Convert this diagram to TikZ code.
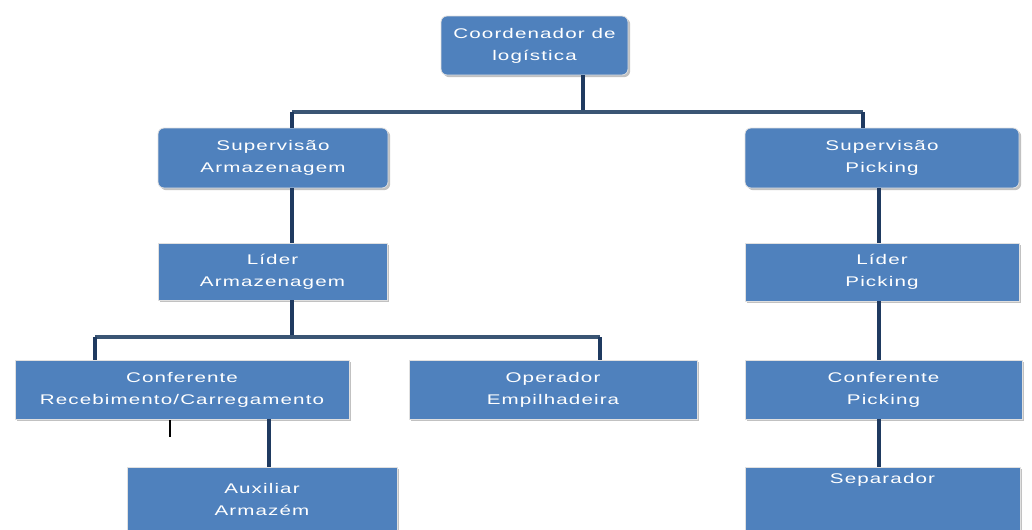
\documentclass[tikz,border=0pt]{standalone}
\usepackage{fontspec}
\setmainfont{Liberation Sans}[FakeStretch=1.47,LetterSpace=8]
\usetikzlibrary{shadows}
\definecolor{boxblue}{HTML}{4F81BD}
\definecolor{navy}{HTML}{1F3A60}
\definecolor{slate}{HTML}{3A5574}
\tikzset{
  box/.style={fill=boxblue, draw=black!12, line width=0.6pt, text=white,
    align=center, inner sep=0pt,
    font=\fontsize{10.5}{16.5}\selectfont,
    drop shadow={shadow xshift=1.6pt, shadow yshift=-1.6pt, fill=black!40, opacity=0.6}},
  rbox/.style={box, rounded corners=4.5pt},
  txt/.style={text=white, font=\fontsize{10.5}{16.5}\selectfont, inner sep=0pt},
  conn/.style={draw=navy, line width=3pt},
  hconn/.style={draw=slate, line width=2.4pt},
  tick/.style={draw=black, line width=1.5pt}
}
\begin{document}
\begin{tikzpicture}[x=0.75pt,y=-0.75pt]
\useasboundingbox (0,0) rectangle (1032,529);
\fill[white] (0,0) rectangle (1032,529);
\coordinate (t1) at (583,112);
\coordinate (tL) at (292,112);
\coordinate (tR) at (863,112);
\coordinate (vR) at (879,0);
\coordinate (m1) at (292,337);
\coordinate (mL) at (95,337);
\coordinate (mR) at (600,337);
\coordinate (vA) at (269,0);
\coordinate (k1) at (170,420);
\coordinate (k2) at (170,437);
% boxes
\node[rbox, minimum width=187*0.75pt, minimum height=59*0.75pt] (co) at (534.5,45.5) {Coordenador de\\log\'istica};
\node[rbox, minimum width=230*0.75pt, minimum height=60*0.75pt] (sa) at (273,158) {Supervis\~ao\\Armazenagem};
\node[rbox, minimum width=274*0.75pt, minimum height=60*0.75pt] (sp) at (882,158) {Supervis\~ao\\Picking};
\node[box, minimum width=229*0.75pt, minimum height=57*0.75pt] (la) at (272.5,271.5) {L\'ider\\Armazenagem};
\node[box, minimum width=274*0.75pt, minimum height=58*0.75pt] (lp) at (882,272) {L\'ider\\Picking};
\node[box, minimum width=334*0.75pt, minimum height=59*0.75pt] (cr) at (182,389.5) {Conferente\\Recebimento/Carregamento};
\node[box, minimum width=288*0.75pt, minimum height=59*0.75pt] (oe) at (553,389.5) {Operador\\Empilhadeira};
\node[box, minimum width=277*0.75pt, minimum height=59*0.75pt] (cp) at (883.5,389.5) {Conferente\\Picking};
\node[box, minimum width=270*0.75pt, minimum height=64*0.75pt] (aa) at (262,499) {Auxiliar\\Armaz\'em};
\node[box, minimum width=275*0.75pt, minimum height=64*0.75pt] (se) at (882.5,499) {};
\node[txt] (set) at (882.5,480) {Separador};
% connectors
\draw[conn] (co.south -| t1) -- (t1);
\draw[hconn] (tL) -- (tR);
\draw[conn] (tL) -- (sa.north -| tL);
\draw[conn] (tR) -- (sp.north -| tR);
\draw[conn] (sa.south -| tL) -- (la.north -| tL);
\draw[conn] (sp.south -| vR) -- (lp.north -| vR);
\draw[conn] (lp.south -| vR) -- (cp.north -| vR);
\draw[conn] (cp.south -| vR) -- (se.north -| vR);
\draw[conn] (la.south -| m1) -- (m1);
\draw[hconn] (mL) -- (mR);
\draw[conn] (mL) -- (cr.north -| mL);
\draw[conn] (mR) -- (oe.north -| mR);
\draw[conn] (cr.south -| vA) -- (aa.north -| vA);
\draw[tick] (k1) -- (k2);
\end{tikzpicture}
\end{document}
